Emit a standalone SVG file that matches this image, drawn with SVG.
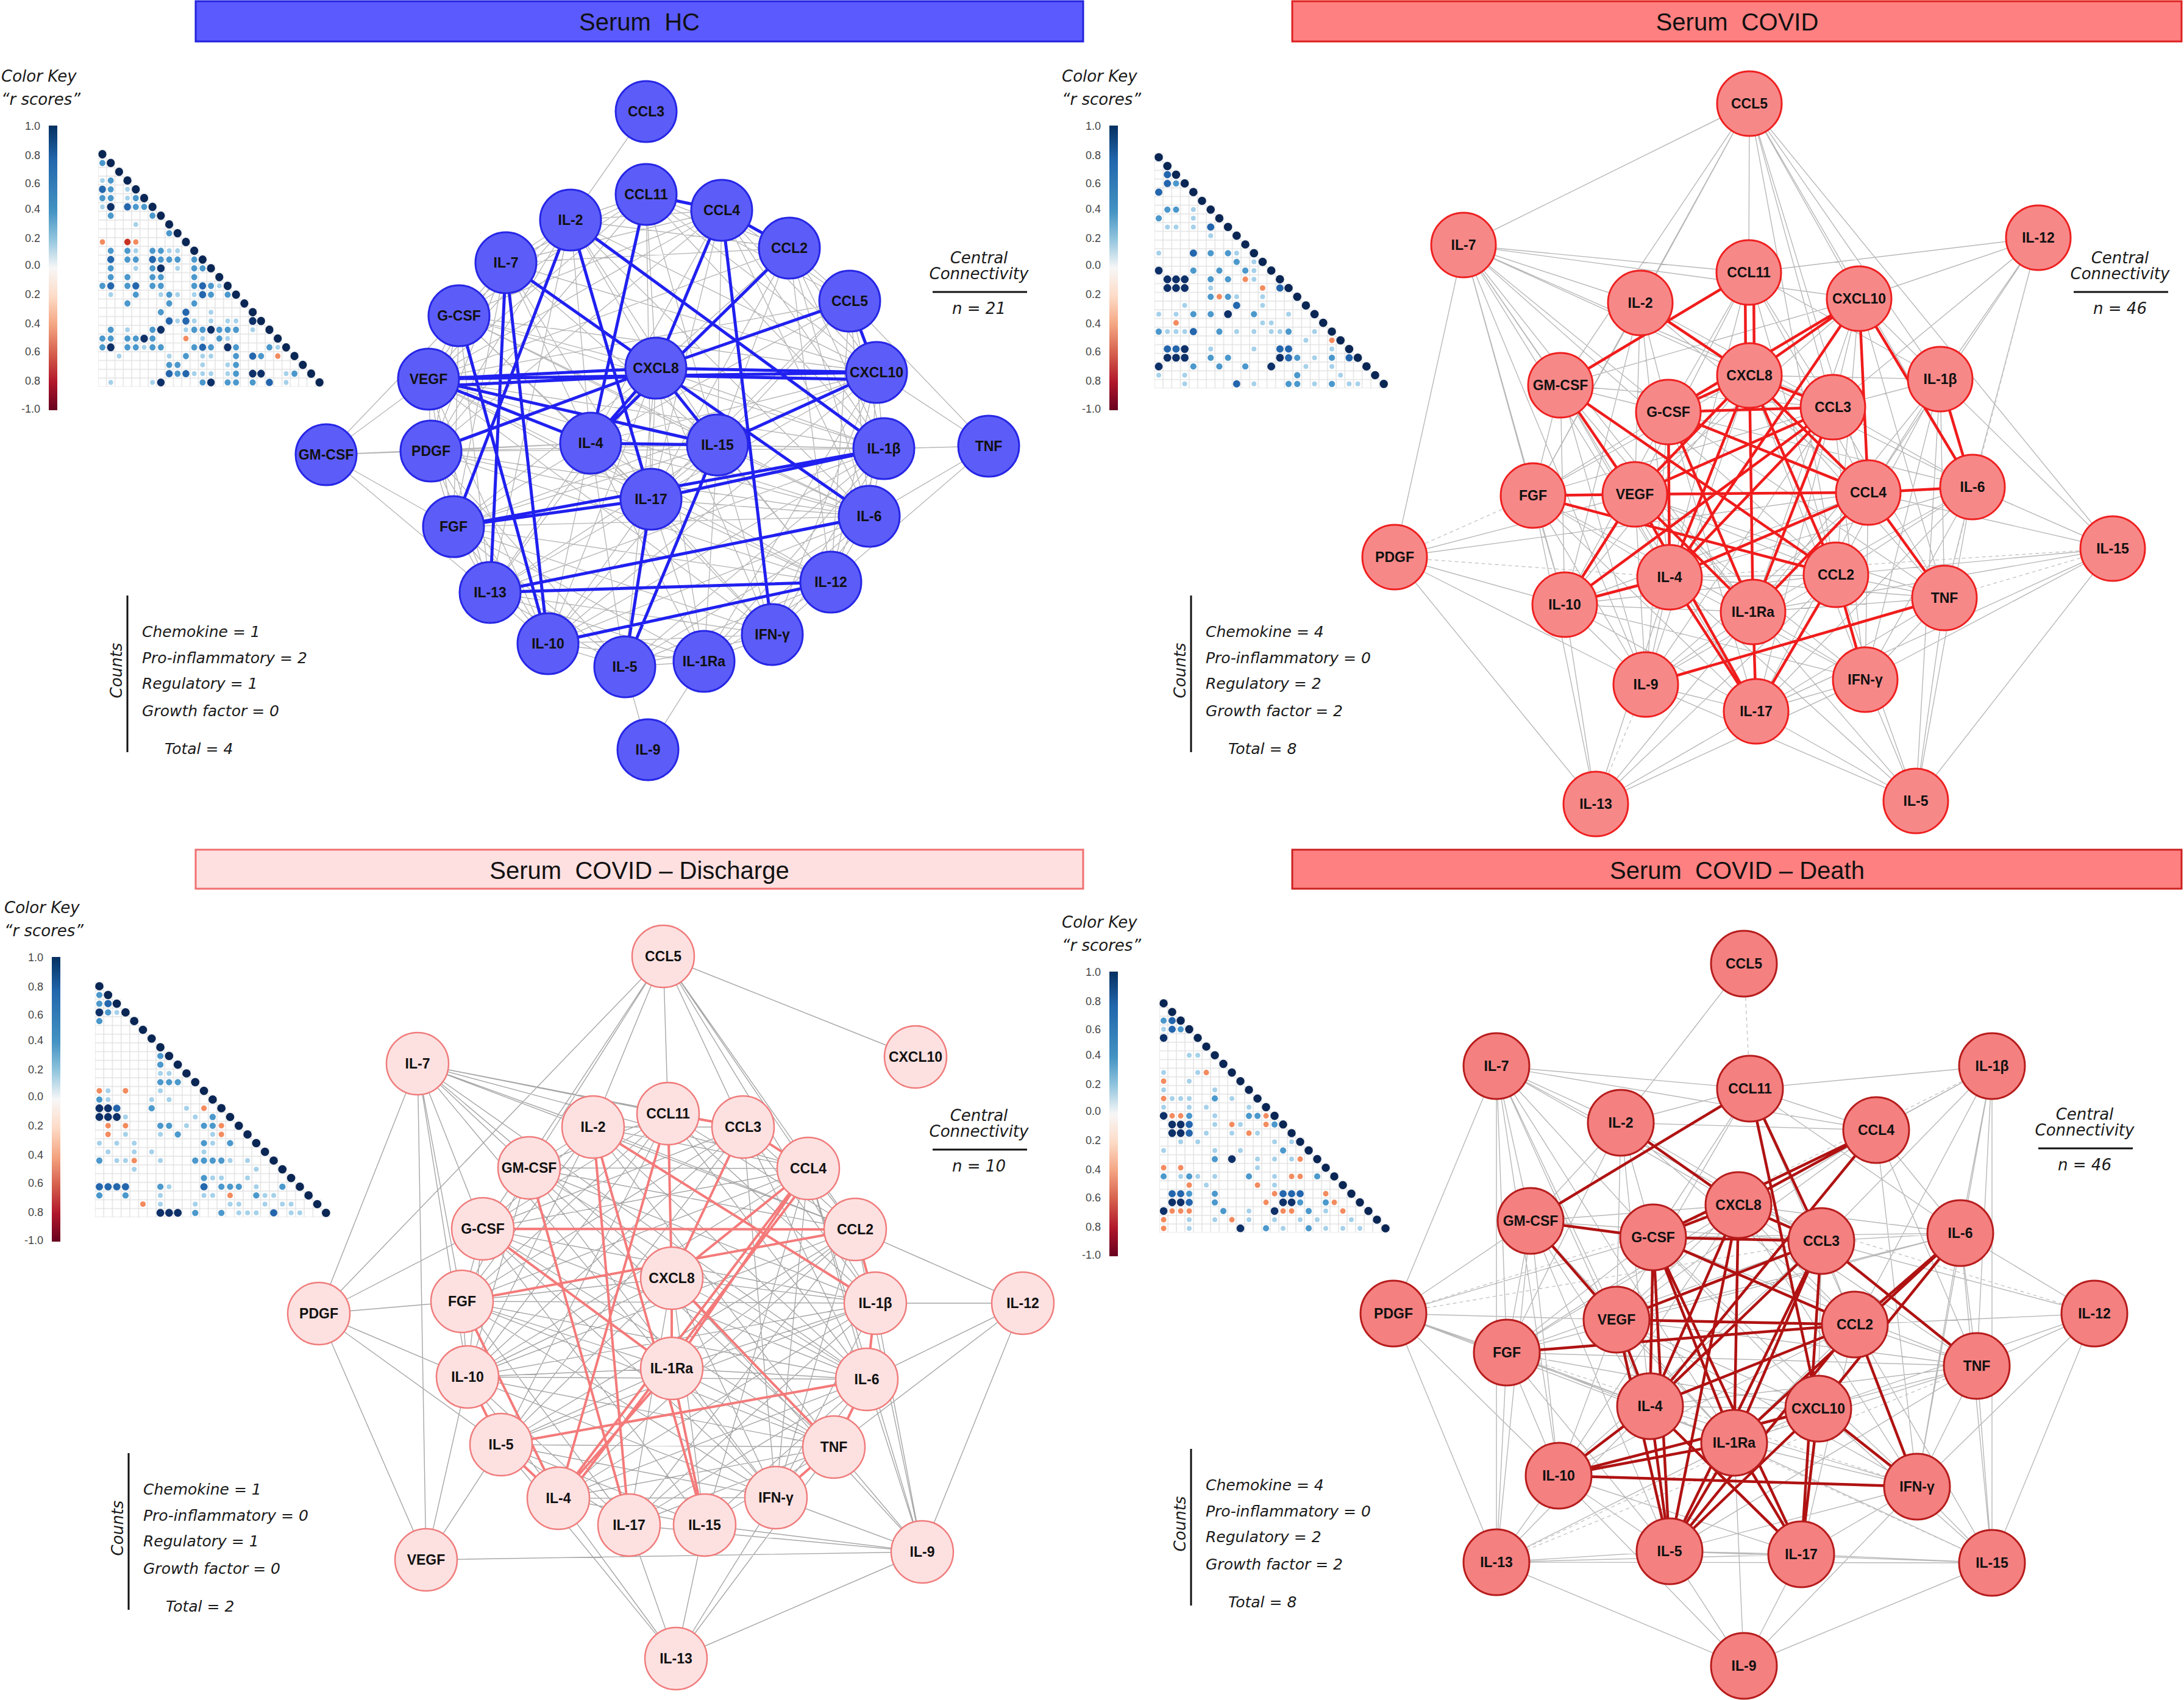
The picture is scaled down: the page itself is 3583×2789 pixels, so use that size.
<svg xmlns="http://www.w3.org/2000/svg" xmlns:xlink="http://www.w3.org/1999/xlink" width="3583" height="2789" viewBox="0 0 3583 2789">
<style>
text{font-family:"Liberation Sans",Arial,sans-serif}
.title{font-size:40px;text-anchor:middle;fill:#111}
.it{font-family:"DejaVu Sans",sans-serif;font-style:italic;fill:#1a1a1a}
.ck{font-size:26px}
.cnt{font-size:25px}
.cc{font-size:26px;text-anchor:middle}
.sc{font-size:18px;text-anchor:end;fill:#444}
.node text{font-weight:bold;font-size:23px;text-anchor:middle;dominant-baseline:central;fill:#111}
.hc circle{fill:#5c5cf8;stroke:#2626e6;stroke-width:3}
.cv circle{fill:#f78888;stroke:#ee2020;stroke-width:3}
.dc circle{fill:#fde1e1;stroke:#f07c7c;stroke-width:2.5}
.de circle{fill:#f48080;stroke:#b81c1c;stroke-width:3}
.g{fill:none;stroke:#b8b8b8;stroke-width:1.4}
.g2{fill:none;stroke:#a6a6a6;stroke-width:1.4}
.gd{fill:none;stroke:#c6c6c6;stroke-width:1.4;stroke-dasharray:6 5}
.eb{fill:none;stroke:#2020f0;stroke-width:5}
.er{fill:none;stroke:#f01c1c;stroke-width:4.5}
.ep{fill:none;stroke:#f47a7a;stroke-width:4}
.ed{fill:none;stroke:#b01212;stroke-width:4.5}
.rule{stroke:#111;stroke-width:3}
.D{fill:#0e3068}.d{fill:#2466ad}.m{fill:#4b98cc}.l{fill:#a6d1ea}.o{fill:#f38b5f}.r{fill:#c83220}
.dg circle{fill:#0a2654}
</style>
<defs>
<linearGradient id="rdbu" x1="0" y1="0" x2="0" y2="1">
<stop offset="0" stop-color="#053061"/><stop offset=".12" stop-color="#2166ac"/><stop offset=".3" stop-color="#4393c3"/><stop offset=".4" stop-color="#92c5de"/><stop offset=".5" stop-color="#f7f7f7"/><stop offset=".6" stop-color="#fddbc7"/><stop offset=".7" stop-color="#f4a582"/><stop offset=".8" stop-color="#d6604d"/><stop offset=".9" stop-color="#b2182b"/><stop offset="1" stop-color="#67001f"/>
</linearGradient>
<pattern id="grid" patternUnits="userSpaceOnUse" x="-.5" y="-.5" width="1" height="1"><rect width="1" height="1" fill="#fff" stroke="#e2e2e2" stroke-width=".1"/></pattern>
<g id="mx">
<polygon fill="url(#grid)" points="-.5,-.5 .5,-.5 .5,.5 1.5,.5 1.5,1.5 2.5,1.5 2.5,2.5 3.5,2.5 3.5,3.5 4.5,3.5 4.5,4.5 5.5,4.5 5.5,5.5 6.5,5.5 6.5,6.5 7.5,6.5 7.5,7.5 8.5,7.5 8.5,8.5 9.5,8.5 9.5,9.5 10.5,9.5 10.5,10.5 11.5,10.5 11.5,11.5 12.5,11.5 12.5,12.5 13.5,12.5 13.5,13.5 14.5,13.5 14.5,14.5 15.5,14.5 15.5,15.5 16.5,15.5 16.5,16.5 17.5,16.5 17.5,17.5 18.5,17.5 18.5,18.5 19.5,18.5 19.5,19.5 20.5,19.5 20.5,20.5 21.5,20.5 21.5,21.5 22.5,21.5 22.5,22.5 23.5,22.5 23.5,23.5 24.5,23.5 24.5,24.5 25.5,24.5 25.5,25.5 26.5,25.5 26.5,26.5 -.5,26.5"/>
<g class="dg"><circle cx="0" cy="0" r=".48"/><circle cx="1" cy="1" r=".48"/><circle cx="2" cy="2" r=".48"/><circle cx="3" cy="3" r=".48"/><circle cx="4" cy="4" r=".48"/><circle cx="5" cy="5" r=".48"/><circle cx="6" cy="6" r=".48"/><circle cx="7" cy="7" r=".48"/><circle cx="8" cy="8" r=".48"/><circle cx="9" cy="9" r=".48"/><circle cx="10" cy="10" r=".48"/><circle cx="11" cy="11" r=".48"/><circle cx="12" cy="12" r=".48"/><circle cx="13" cy="13" r=".48"/><circle cx="14" cy="14" r=".48"/><circle cx="15" cy="15" r=".48"/><circle cx="16" cy="16" r=".48"/><circle cx="17" cy="17" r=".48"/><circle cx="18" cy="18" r=".48"/><circle cx="19" cy="19" r=".48"/><circle cx="20" cy="20" r=".48"/><circle cx="21" cy="21" r=".48"/><circle cx="22" cy="22" r=".48"/><circle cx="23" cy="23" r=".48"/><circle cx="24" cy="24" r=".48"/><circle cx="25" cy="25" r=".48"/><circle cx="26" cy="26" r=".48"/></g>
</g>
<g id="key">
<text class="it ck" x="2" y="134">Color Key</text>
<text class="it ck" x="2" y="172">&#8220;r scores&#8221;</text>
<rect x="80" y="206" width="14" height="467" fill="url(#rdbu)"/>
<text class="sc" x="66" y="213">1.0</text><text class="sc" x="66" y="261">0.8</text><text class="sc" x="66" y="307">0.6</text><text class="sc" x="66" y="349">0.4</text><text class="sc" x="66" y="397">0.2</text><text class="sc" x="66" y="441">0.0</text><text class="sc" x="66" y="489">0.2</text><text class="sc" x="66" y="537">0.4</text><text class="sc" x="66" y="583">0.6</text><text class="sc" x="66" y="631">0.8</text><text class="sc" x="66" y="677">-1.0</text>
</g>
</defs>
<rect width="3583" height="2789" fill="#fff"/>

<!-- titles -->
<g id="title-hc"><rect x="321" y="2" width="1456" height="66" fill="#5a5aff" stroke="#2222dd" stroke-width="3"/><text class="title" x="1049" y="50" xml:space="preserve">Serum  HC</text></g>
<g id="title-covid"><rect x="2120" y="2" width="1459" height="66" fill="#ff8080" stroke="#dd2020" stroke-width="3"/><text class="title" x="2850" y="50" xml:space="preserve">Serum  COVID</text></g>
<g id="title-discharge"><rect x="321" y="1394" width="1456" height="64" fill="#ffe0e0" stroke="#f07070" stroke-width="3"/><text class="title" x="1049" y="1442" xml:space="preserve">Serum  COVID – Discharge</text></g>
<g id="title-death"><rect x="2120" y="1394" width="1459" height="64" fill="#ff8080" stroke="#cc2020" stroke-width="3"/><text class="title" x="2850" y="1442" xml:space="preserve">Serum  COVID – Death</text></g>

<!-- color keys -->
<use id="key-hc" href="#key"/>
<use id="key-covid" href="#key" transform="translate(1740,0)"/>
<use id="key-discharge" href="#key" transform="translate(5,1364)"/>
<use id="key-death" href="#key" transform="translate(1740,1388)"/>

<!-- correlation matrices -->
<g id="matrix-hc" transform="translate(168,253) scale(13.7,14.4)"><use href="#mx"/>
<circle class="D" cx="1" cy="6" r=".45"/><circle class="D" cx="7" cy="13" r=".45"/><circle class="D" cx="18" cy="19" r=".45"/><circle class="D" cx="7" cy="20" r=".45"/><circle class="D" cx="13" cy="20" r=".45"/><circle class="D" cx="5" cy="21" r=".45"/><circle class="D" cx="1" cy="22" r=".45"/><circle class="D" cx="15" cy="22" r=".45"/><circle class="D" cx="18" cy="25" r=".45"/><circle class="D" cx="19" cy="25" r=".45"/><circle class="D" cx="7" cy="26" r=".45"/><circle class="D" cx="13" cy="26" r=".45"/>
<circle class="d" cx="0" cy="4" r=".42"/><circle class="d" cx="3" cy="6" r=".42"/><circle class="d" cx="1" cy="12" r=".42"/><circle class="d" cx="6" cy="12" r=".42"/><circle class="d" cx="1" cy="15" r=".42"/><circle class="d" cx="4" cy="15" r=".42"/><circle class="d" cx="12" cy="15" r=".42"/><circle class="d" cx="12" cy="16" r=".42"/><circle class="d" cx="10" cy="18" r=".42"/><circle class="d" cx="8" cy="19" r=".42"/><circle class="d" cx="10" cy="19" r=".42"/><circle class="d" cx="12" cy="22" r=".42"/><circle class="d" cx="18" cy="23" r=".42"/><circle class="d" cx="8" cy="25" r=".42"/><circle class="d" cx="10" cy="25" r=".42"/><circle class="d" cx="20" cy="26" r=".42"/>
<circle class="m" cx="0" cy="1" r=".36"/><circle class="m" cx="1" cy="3" r=".36"/><circle class="m" cx="1" cy="4" r=".36"/><circle class="m" cx="0" cy="5" r=".36"/><circle class="m" cx="1" cy="5" r=".36"/><circle class="m" cx="4" cy="5" r=".36"/><circle class="m" cx="4" cy="6" r=".36"/><circle class="m" cx="5" cy="6" r=".36"/><circle class="m" cx="1" cy="7" r=".36"/><circle class="m" cx="6" cy="7" r=".36"/><circle class="m" cx="8" cy="9" r=".36"/><circle class="m" cx="1" cy="11" r=".36"/><circle class="m" cx="3" cy="11" r=".36"/><circle class="m" cx="6" cy="11" r=".36"/><circle class="m" cx="7" cy="11" r=".36"/><circle class="m" cx="3" cy="12" r=".36"/><circle class="m" cx="4" cy="12" r=".36"/><circle class="m" cx="7" cy="12" r=".36"/><circle class="m" cx="8" cy="12" r=".36"/><circle class="m" cx="9" cy="12" r=".36"/><circle class="m" cx="11" cy="12" r=".36"/><circle class="m" cx="1" cy="13" r=".36"/><circle class="m" cx="6" cy="13" r=".36"/><circle class="m" cx="11" cy="13" r=".36"/><circle class="m" cx="12" cy="13" r=".36"/><circle class="m" cx="1" cy="14" r=".36"/><circle class="m" cx="3" cy="14" r=".36"/><circle class="m" cx="6" cy="14" r=".36"/><circle class="m" cx="7" cy="14" r=".36"/><circle class="m" cx="11" cy="14" r=".36"/><circle class="m" cx="0" cy="15" r=".36"/><circle class="m" cx="3" cy="15" r=".36"/><circle class="m" cx="6" cy="15" r=".36"/><circle class="m" cx="7" cy="15" r=".36"/><circle class="m" cx="11" cy="15" r=".36"/><circle class="m" cx="13" cy="15" r=".36"/><circle class="m" cx="4" cy="16" r=".36"/><circle class="m" cx="8" cy="16" r=".36"/><circle class="m" cx="13" cy="16" r=".36"/><circle class="m" cx="15" cy="16" r=".36"/><circle class="m" cx="3" cy="17" r=".36"/><circle class="m" cx="8" cy="17" r=".36"/><circle class="m" cx="11" cy="17" r=".36"/><circle class="m" cx="7" cy="18" r=".36"/><circle class="m" cx="1" cy="20" r=".36"/><circle class="m" cx="6" cy="20" r=".36"/><circle class="m" cx="11" cy="20" r=".36"/><circle class="m" cx="12" cy="20" r=".36"/><circle class="m" cx="14" cy="20" r=".36"/><circle class="m" cx="15" cy="20" r=".36"/><circle class="m" cx="16" cy="20" r=".36"/><circle class="m" cx="0" cy="21" r=".36"/><circle class="m" cx="1" cy="21" r=".36"/><circle class="m" cx="3" cy="21" r=".36"/><circle class="m" cx="4" cy="21" r=".36"/><circle class="m" cx="6" cy="21" r=".36"/><circle class="m" cx="14" cy="21" r=".36"/><circle class="m" cx="0" cy="22" r=".36"/><circle class="m" cx="3" cy="22" r=".36"/><circle class="m" cx="4" cy="22" r=".36"/><circle class="m" cx="6" cy="22" r=".36"/><circle class="m" cx="7" cy="22" r=".36"/><circle class="m" cx="11" cy="22" r=".36"/><circle class="m" cx="13" cy="22" r=".36"/><circle class="m" cx="16" cy="22" r=".36"/><circle class="m" cx="20" cy="22" r=".36"/><circle class="m" cx="10" cy="23" r=".36"/><circle class="m" cx="16" cy="23" r=".36"/><circle class="m" cx="19" cy="23" r=".36"/><circle class="m" cx="8" cy="24" r=".36"/><circle class="m" cx="9" cy="24" r=".36"/><circle class="m" cx="16" cy="24" r=".36"/><circle class="m" cx="9" cy="25" r=".36"/><circle class="m" cx="16" cy="25" r=".36"/><circle class="m" cx="23" cy="25" r=".36"/><circle class="m" cx="12" cy="26" r=".36"/><circle class="m" cx="15" cy="26" r=".36"/><circle class="m" cx="16" cy="26" r=".36"/><circle class="m" cx="18" cy="26" r=".36"/>
<circle class="l" cx="0" cy="3" r=".28"/><circle class="l" cx="3" cy="4" r=".28"/><circle class="l" cx="3" cy="5" r=".28"/><circle class="l" cx="0" cy="6" r=".28"/><circle class="l" cx="4" cy="8" r=".28"/><circle class="l" cx="4" cy="11" r=".28"/><circle class="l" cx="8" cy="11" r=".28"/><circle class="l" cx="9" cy="11" r=".28"/><circle class="l" cx="4" cy="13" r=".28"/><circle class="l" cx="9" cy="13" r=".28"/><circle class="l" cx="14" cy="15" r=".28"/><circle class="l" cx="1" cy="16" r=".28"/><circle class="l" cx="7" cy="16" r=".28"/><circle class="l" cx="9" cy="16" r=".28"/><circle class="l" cx="11" cy="16" r=".28"/><circle class="l" cx="13" cy="18" r=".28"/><circle class="l" cx="9" cy="19" r=".28"/><circle class="l" cx="11" cy="19" r=".28"/><circle class="l" cx="13" cy="19" r=".28"/><circle class="l" cx="15" cy="19" r=".28"/><circle class="l" cx="16" cy="19" r=".28"/><circle class="l" cx="3" cy="20" r=".28"/><circle class="l" cx="10" cy="20" r=".28"/><circle class="l" cx="18" cy="20" r=".28"/><circle class="l" cx="12" cy="21" r=".28"/><circle class="l" cx="15" cy="21" r=".28"/><circle class="l" cx="5" cy="22" r=".28"/><circle class="l" cx="21" cy="22" r=".28"/><circle class="l" cx="2" cy="23" r=".28"/><circle class="l" cx="8" cy="23" r=".28"/><circle class="l" cx="12" cy="23" r=".28"/><circle class="l" cx="13" cy="23" r=".28"/><circle class="l" cx="12" cy="24" r=".28"/><circle class="l" cx="15" cy="24" r=".28"/><circle class="l" cx="11" cy="25" r=".28"/><circle class="l" cx="12" cy="25" r=".28"/><circle class="l" cx="13" cy="25" r=".28"/><circle class="l" cx="15" cy="25" r=".28"/><circle class="l" cx="22" cy="25" r=".28"/><circle class="l" cx="1" cy="26" r=".28"/><circle class="l" cx="6" cy="26" r=".28"/><circle class="l" cx="22" cy="26" r=".28"/>
<circle class="o" cx="0" cy="10" r=".32"/><circle class="o" cx="4" cy="10" r=".32"/><circle class="o" cx="10" cy="21" r=".32"/><circle class="o" cx="21" cy="23" r=".32"/><circle class="r" cx="3" cy="10" r=".38"/>
</g>
<g id="matrix-covid" transform="translate(1901,258) scale(14.2,14.3)"><use href="#mx"/>
<circle class="D" cx="0" cy="13" r=".45"/><circle class="D" cx="1" cy="14" r=".45"/><circle class="D" cx="2" cy="14" r=".45"/><circle class="D" cx="3" cy="14" r=".45"/><circle class="D" cx="1" cy="15" r=".45"/><circle class="D" cx="2" cy="15" r=".45"/><circle class="D" cx="3" cy="15" r=".45"/><circle class="D" cx="8" cy="18" r=".45"/><circle class="D" cx="3" cy="22" r=".45"/><circle class="D" cx="1" cy="23" r=".45"/><circle class="D" cx="2" cy="23" r=".45"/><circle class="D" cx="3" cy="23" r=".45"/><circle class="D" cx="14" cy="23" r=".45"/><circle class="D" cx="0" cy="24" r=".45"/><circle class="D" cx="13" cy="24" r=".45"/>
<circle class="d" cx="1" cy="2" r=".42"/><circle class="d" cx="1" cy="3" r=".42"/><circle class="d" cx="0" cy="4" r=".42"/><circle class="d" cx="6" cy="8" r=".42"/><circle class="d" cx="4" cy="11" r=".42"/><circle class="d" cx="14" cy="15" r=".42"/><circle class="d" cx="9" cy="17" r=".42"/><circle class="d" cx="4" cy="20" r=".42"/><circle class="d" cx="1" cy="22" r=".42"/><circle class="d" cx="2" cy="22" r=".42"/><circle class="d" cx="14" cy="22" r=".42"/><circle class="d" cx="15" cy="22" r=".42"/><circle class="d" cx="15" cy="23" r=".42"/><circle class="d" cx="22" cy="23" r=".42"/><circle class="d" cx="9" cy="26" r=".42"/>
<circle class="m" cx="2" cy="3" r=".36"/><circle class="m" cx="1" cy="6" r=".36"/><circle class="m" cx="2" cy="6" r=".36"/><circle class="m" cx="0" cy="7" r=".36"/><circle class="m" cx="6" cy="11" r=".36"/><circle class="m" cx="8" cy="11" r=".36"/><circle class="m" cx="9" cy="12" r=".36"/><circle class="m" cx="4" cy="13" r=".36"/><circle class="m" cx="7" cy="13" r=".36"/><circle class="m" cx="10" cy="13" r=".36"/><circle class="m" cx="6" cy="14" r=".36"/><circle class="m" cx="8" cy="14" r=".36"/><circle class="m" cx="6" cy="16" r=".36"/><circle class="m" cx="8" cy="16" r=".36"/><circle class="m" cx="4" cy="18" r=".36"/><circle class="m" cx="6" cy="18" r=".36"/><circle class="m" cx="11" cy="18" r=".36"/><circle class="m" cx="0" cy="20" r=".36"/><circle class="m" cx="7" cy="20" r=".36"/><circle class="m" cx="15" cy="20" r=".36"/><circle class="m" cx="6" cy="23" r=".36"/><circle class="m" cx="8" cy="23" r=".36"/><circle class="m" cx="16" cy="23" r=".36"/><circle class="m" cx="20" cy="23" r=".36"/><circle class="m" cx="4" cy="24" r=".36"/><circle class="m" cx="7" cy="24" r=".36"/><circle class="m" cx="10" cy="24" r=".36"/><circle class="m" cx="16" cy="25" r=".36"/><circle class="m" cx="15" cy="26" r=".36"/><circle class="m" cx="16" cy="26" r=".36"/><circle class="m" cx="20" cy="26" r=".36"/>
<circle class="l" cx="4" cy="6" r=".28"/><circle class="l" cx="4" cy="7" r=".28"/><circle class="l" cx="1" cy="8" r=".28"/><circle class="l" cx="2" cy="8" r=".28"/><circle class="l" cx="4" cy="8" r=".28"/><circle class="l" cx="6" cy="9" r=".28"/><circle class="l" cx="0" cy="11" r=".28"/><circle class="l" cx="9" cy="11" r=".28"/><circle class="l" cx="11" cy="12" r=".28"/><circle class="l" cx="11" cy="13" r=".28"/><circle class="l" cx="11" cy="14" r=".28"/><circle class="l" cx="6" cy="15" r=".28"/><circle class="l" cx="9" cy="16" r=".28"/><circle class="l" cx="12" cy="16" r=".28"/><circle class="l" cx="3" cy="17" r=".28"/><circle class="l" cx="12" cy="17" r=".28"/><circle class="l" cx="0" cy="18" r=".28"/><circle class="l" cx="2" cy="18" r=".28"/><circle class="l" cx="15" cy="18" r=".28"/><circle class="l" cx="12" cy="19" r=".28"/><circle class="l" cx="13" cy="19" r=".28"/><circle class="l" cx="1" cy="20" r=".28"/><circle class="l" cx="2" cy="20" r=".28"/><circle class="l" cx="3" cy="20" r=".28"/><circle class="l" cx="9" cy="20" r=".28"/><circle class="l" cx="11" cy="20" r=".28"/><circle class="l" cx="13" cy="20" r=".28"/><circle class="l" cx="14" cy="20" r=".28"/><circle class="l" cx="18" cy="20" r=".28"/><circle class="l" cx="17" cy="21" r=".28"/><circle class="l" cx="6" cy="22" r=".28"/><circle class="l" cx="11" cy="22" r=".28"/><circle class="l" cx="20" cy="22" r=".28"/><circle class="l" cx="18" cy="23" r=".28"/><circle class="l" cx="17" cy="24" r=".28"/><circle class="l" cx="20" cy="24" r=".28"/><circle class="l" cx="0" cy="25" r=".28"/><circle class="l" cx="3" cy="25" r=".28"/><circle class="l" cx="21" cy="25" r=".28"/><circle class="l" cx="3" cy="26" r=".28"/><circle class="l" cx="11" cy="26" r=".28"/><circle class="l" cx="18" cy="26" r=".28"/><circle class="l" cx="22" cy="26" r=".28"/><circle class="l" cx="23" cy="26" r=".28"/>
<circle class="o" cx="10" cy="14" r=".32"/><circle class="o" cx="12" cy="15" r=".32"/><circle class="o" cx="7" cy="16" r=".32"/><circle class="o" cx="2" cy="19" r=".32"/><circle class="o" cx="20" cy="21" r=".32"/>
</g>
<g id="matrix-discharge" transform="translate(163,1618) scale(14.3,14.3)"><use href="#mx"/>
<circle class="D" cx="0" cy="3" r=".45"/><circle class="D" cx="0" cy="14" r=".45"/><circle class="D" cx="1" cy="14" r=".45"/><circle class="D" cx="0" cy="15" r=".45"/><circle class="D" cx="1" cy="15" r=".45"/><circle class="D" cx="2" cy="15" r=".45"/><circle class="D" cx="7" cy="26" r=".45"/><circle class="D" cx="8" cy="26" r=".45"/><circle class="D" cx="9" cy="26" r=".45"/>
<circle class="d" cx="1" cy="2" r=".42"/><circle class="d" cx="2" cy="14" r=".42"/><circle class="d" cx="0" cy="23" r=".42"/><circle class="d" cx="1" cy="23" r=".42"/><circle class="d" cx="2" cy="23" r=".42"/><circle class="d" cx="3" cy="23" r=".42"/><circle class="d" cx="12" cy="23" r=".42"/><circle class="d" cx="20" cy="26" r=".42"/>
<circle class="m" cx="0" cy="1" r=".36"/><circle class="m" cx="0" cy="2" r=".36"/><circle class="m" cx="1" cy="3" r=".36"/><circle class="m" cx="0" cy="4" r=".36"/><circle class="m" cx="7" cy="8" r=".36"/><circle class="m" cx="7" cy="9" r=".36"/><circle class="m" cx="7" cy="11" r=".36"/><circle class="m" cx="8" cy="11" r=".36"/><circle class="m" cx="9" cy="11" r=".36"/><circle class="m" cx="0" cy="13" r=".36"/><circle class="m" cx="6" cy="14" r=".36"/><circle class="m" cx="13" cy="15" r=".36"/><circle class="m" cx="7" cy="16" r=".36"/><circle class="m" cx="8" cy="16" r=".36"/><circle class="m" cx="12" cy="16" r=".36"/><circle class="m" cx="13" cy="16" r=".36"/><circle class="m" cx="9" cy="17" r=".36"/><circle class="m" cx="12" cy="18" r=".36"/><circle class="m" cx="15" cy="18" r=".36"/><circle class="m" cx="0" cy="20" r=".36"/><circle class="m" cx="11" cy="20" r=".36"/><circle class="m" cx="12" cy="20" r=".36"/><circle class="m" cx="13" cy="20" r=".36"/><circle class="m" cx="14" cy="20" r=".36"/><circle class="m" cx="12" cy="22" r=".36"/><circle class="m" cx="7" cy="23" r=".36"/><circle class="m" cx="14" cy="23" r=".36"/><circle class="m" cx="15" cy="23" r=".36"/><circle class="m" cx="16" cy="23" r=".36"/><circle class="m" cx="21" cy="23" r=".36"/><circle class="m" cx="0" cy="24" r=".36"/><circle class="m" cx="3" cy="24" r=".36"/><circle class="m" cx="18" cy="24" r=".36"/><circle class="m" cx="11" cy="26" r=".36"/><circle class="m" cx="14" cy="26" r=".36"/>
<circle class="l" cx="2" cy="3" r=".28"/><circle class="l" cx="7" cy="10" r=".28"/><circle class="l" cx="8" cy="10" r=".28"/><circle class="l" cx="1" cy="12" r=".28"/><circle class="l" cx="7" cy="12" r=".28"/><circle class="l" cx="1" cy="13" r=".28"/><circle class="l" cx="6" cy="13" r=".28"/><circle class="l" cx="8" cy="13" r=".28"/><circle class="l" cx="10" cy="14" r=".28"/><circle class="l" cx="3" cy="15" r=".28"/><circle class="l" cx="11" cy="15" r=".28"/><circle class="l" cx="10" cy="16" r=".28"/><circle class="l" cx="3" cy="17" r=".28"/><circle class="l" cx="7" cy="17" r=".28"/><circle class="l" cx="13" cy="17" r=".28"/><circle class="l" cx="0" cy="18" r=".28"/><circle class="l" cx="2" cy="18" r=".28"/><circle class="l" cx="4" cy="18" r=".28"/><circle class="l" cx="13" cy="18" r=".28"/><circle class="l" cx="1" cy="19" r=".28"/><circle class="l" cx="4" cy="19" r=".28"/><circle class="l" cx="6" cy="19" r=".28"/><circle class="l" cx="12" cy="19" r=".28"/><circle class="l" cx="2" cy="20" r=".28"/><circle class="l" cx="3" cy="20" r=".28"/><circle class="l" cx="7" cy="20" r=".28"/><circle class="l" cx="15" cy="20" r=".28"/><circle class="l" cx="17" cy="20" r=".28"/><circle class="l" cx="4" cy="21" r=".28"/><circle class="l" cx="18" cy="21" r=".28"/><circle class="l" cx="13" cy="22" r=".28"/><circle class="l" cx="14" cy="22" r=".28"/><circle class="l" cx="17" cy="22" r=".28"/><circle class="l" cx="8" cy="23" r=".28"/><circle class="l" cx="18" cy="23" r=".28"/><circle class="l" cx="7" cy="24" r=".28"/><circle class="l" cx="12" cy="24" r=".28"/><circle class="l" cx="13" cy="24" r=".28"/><circle class="l" cx="19" cy="24" r=".28"/><circle class="l" cx="20" cy="24" r=".28"/><circle class="l" cx="7" cy="25" r=".28"/><circle class="l" cx="11" cy="25" r=".28"/><circle class="l" cx="15" cy="25" r=".28"/><circle class="l" cx="16" cy="25" r=".28"/><circle class="l" cx="19" cy="25" r=".28"/><circle class="l" cx="21" cy="25" r=".28"/><circle class="l" cx="22" cy="25" r=".28"/><circle class="l" cx="16" cy="26" r=".28"/><circle class="l" cx="17" cy="26" r=".28"/><circle class="l" cx="18" cy="26" r=".28"/><circle class="l" cx="22" cy="26" r=".28"/><circle class="l" cx="23" cy="26" r=".28"/>
<circle class="o" cx="0" cy="12" r=".32"/><circle class="o" cx="3" cy="12" r=".32"/><circle class="o" cx="12" cy="14" r=".32"/><circle class="o" cx="1" cy="16" r=".32"/><circle class="o" cx="3" cy="16" r=".32"/><circle class="o" cx="14" cy="16" r=".32"/><circle class="o" cx="1" cy="17" r=".32"/><circle class="o" cx="14" cy="17" r=".32"/><circle class="o" cx="4" cy="20" r=".32"/><circle class="o" cx="15" cy="24" r=".32"/><circle class="o" cx="5" cy="25" r=".32"/>
</g>
<g id="matrix-death" transform="translate(1909,1646) scale(14.0,14.2)"><use href="#mx"/>
<circle class="D" cx="0" cy="4" r=".45"/><circle class="D" cx="0" cy="13" r=".45"/><circle class="D" cx="1" cy="14" r=".45"/><circle class="D" cx="2" cy="14" r=".45"/><circle class="D" cx="1" cy="15" r=".45"/><circle class="D" cx="2" cy="15" r=".45"/><circle class="D" cx="8" cy="18" r=".45"/><circle class="D" cx="1" cy="23" r=".45"/><circle class="D" cx="2" cy="23" r=".45"/><circle class="D" cx="14" cy="23" r=".45"/><circle class="D" cx="15" cy="23" r=".45"/><circle class="D" cx="0" cy="24" r=".45"/><circle class="D" cx="13" cy="24" r=".45"/><circle class="D" cx="9" cy="26" r=".45"/>
<circle class="d" cx="1" cy="2" r=".42"/><circle class="d" cx="1" cy="3" r=".42"/><circle class="d" cx="3" cy="14" r=".42"/><circle class="d" cx="3" cy="15" r=".42"/><circle class="d" cx="1" cy="22" r=".42"/><circle class="d" cx="2" cy="22" r=".42"/><circle class="d" cx="14" cy="22" r=".42"/><circle class="d" cx="15" cy="22" r=".42"/><circle class="d" cx="16" cy="22" r=".42"/><circle class="d" cx="3" cy="23" r=".42"/>
<circle class="m" cx="0" cy="2" r=".36"/><circle class="m" cx="2" cy="3" r=".36"/><circle class="m" cx="6" cy="11" r=".36"/><circle class="m" cx="3" cy="13" r=".36"/><circle class="m" cx="10" cy="13" r=".36"/><circle class="m" cx="11" cy="13" r=".36"/><circle class="m" cx="13" cy="14" r=".36"/><circle class="m" cx="14" cy="17" r=".36"/><circle class="m" cx="6" cy="18" r=".36"/><circle class="m" cx="0" cy="20" r=".36"/><circle class="m" cx="3" cy="20" r=".36"/><circle class="m" cx="10" cy="20" r=".36"/><circle class="m" cx="18" cy="20" r=".36"/><circle class="m" cx="3" cy="22" r=".36"/><circle class="m" cx="6" cy="22" r=".36"/><circle class="m" cx="6" cy="23" r=".36"/><circle class="m" cx="16" cy="23" r=".36"/><circle class="m" cx="19" cy="23" r=".36"/><circle class="m" cx="7" cy="24" r=".36"/><circle class="m" cx="17" cy="24" r=".36"/><circle class="m" cx="12" cy="26" r=".36"/><circle class="m" cx="17" cy="26" r=".36"/>
<circle class="l" cx="0" cy="3" r=".28"/><circle class="l" cx="3" cy="6" r=".28"/><circle class="l" cx="4" cy="6" r=".28"/><circle class="l" cx="0" cy="8" r=".28"/><circle class="l" cx="4" cy="8" r=".28"/><circle class="l" cx="3" cy="9" r=".28"/><circle class="l" cx="0" cy="10" r=".28"/><circle class="l" cx="6" cy="10" r=".28"/><circle class="l" cx="1" cy="11" r=".28"/><circle class="l" cx="2" cy="11" r=".28"/><circle class="l" cx="3" cy="11" r=".28"/><circle class="l" cx="8" cy="11" r=".28"/><circle class="l" cx="0" cy="12" r=".28"/><circle class="l" cx="3" cy="12" r=".28"/><circle class="l" cx="5" cy="12" r=".28"/><circle class="l" cx="10" cy="12" r=".28"/><circle class="l" cx="6" cy="13" r=".28"/><circle class="l" cx="6" cy="14" r=".28"/><circle class="l" cx="9" cy="14" r=".28"/><circle class="l" cx="5" cy="15" r=".28"/><circle class="l" cx="8" cy="15" r=".28"/><circle class="l" cx="11" cy="15" r=".28"/><circle class="l" cx="2" cy="16" r=".28"/><circle class="l" cx="4" cy="16" r=".28"/><circle class="l" cx="13" cy="16" r=".28"/><circle class="l" cx="15" cy="16" r=".28"/><circle class="l" cx="0" cy="17" r=".28"/><circle class="l" cx="6" cy="17" r=".28"/><circle class="l" cx="9" cy="17" r=".28"/><circle class="l" cx="11" cy="18" r=".28"/><circle class="l" cx="13" cy="18" r=".28"/><circle class="l" cx="15" cy="18" r=".28"/><circle class="l" cx="11" cy="19" r=".28"/><circle class="l" cx="2" cy="20" r=".28"/><circle class="l" cx="4" cy="20" r=".28"/><circle class="l" cx="6" cy="20" r=".28"/><circle class="l" cx="13" cy="20" r=".28"/><circle class="l" cx="5" cy="21" r=".28"/><circle class="l" cx="13" cy="21" r=".28"/><circle class="l" cx="10" cy="24" r=".28"/><circle class="l" cx="19" cy="24" r=".28"/><circle class="l" cx="3" cy="25" r=".28"/><circle class="l" cx="6" cy="25" r=".28"/><circle class="l" cx="10" cy="25" r=".28"/><circle class="l" cx="13" cy="25" r=".28"/><circle class="l" cx="16" cy="25" r=".28"/><circle class="l" cx="18" cy="25" r=".28"/><circle class="l" cx="22" cy="25" r=".28"/><circle class="l" cx="3" cy="26" r=".28"/><circle class="l" cx="14" cy="26" r=".28"/><circle class="l" cx="19" cy="26" r=".28"/><circle class="l" cx="21" cy="26" r=".28"/><circle class="l" cx="23" cy="26" r=".28"/>
<circle class="o" cx="5" cy="8" r=".32"/><circle class="o" cx="0" cy="9" r=".32"/><circle class="o" cx="0" cy="11" r=".32"/><circle class="o" cx="1" cy="13" r=".32"/><circle class="o" cx="2" cy="13" r=".32"/><circle class="o" cx="12" cy="13" r=".32"/><circle class="o" cx="8" cy="14" r=".32"/><circle class="o" cx="12" cy="14" r=".32"/><circle class="o" cx="10" cy="15" r=".32"/><circle class="o" cx="16" cy="18" r=".32"/><circle class="o" cx="0" cy="19" r=".32"/><circle class="o" cx="2" cy="19" r=".32"/><circle class="o" cx="15" cy="20" r=".32"/><circle class="o" cx="16" cy="20" r=".32"/><circle class="o" cx="3" cy="21" r=".32"/><circle class="o" cx="11" cy="21" r=".32"/><circle class="o" cx="13" cy="22" r=".32"/><circle class="o" cx="19" cy="22" r=".32"/><circle class="o" cx="12" cy="23" r=".32"/><circle class="o" cx="20" cy="23" r=".32"/><circle class="o" cx="1" cy="24" r=".32"/><circle class="o" cx="2" cy="24" r=".32"/><circle class="o" cx="3" cy="24" r=".32"/><circle class="o" cx="14" cy="24" r=".32"/><circle class="o" cx="15" cy="24" r=".32"/><circle class="o" cx="21" cy="24" r=".32"/><circle class="o" cx="0" cy="25" r=".32"/><circle class="o" cx="8" cy="25" r=".32"/><circle class="o" cx="0" cy="26" r=".32"/>
</g>

<!-- counts -->
<g id="counts-hc"><path class="rule" d="M209 977V1234"/><text class="it ck" transform="translate(200,1100) rotate(-90)" text-anchor="middle">Counts</text><text class="it cnt" x="233" y="1045">Chemokine = 1</text><text class="it cnt" x="233" y="1088">Pro-inflammatory = 2</text><text class="it cnt" x="233" y="1130">Regulatory = 1</text><text class="it cnt" x="233" y="1175">Growth factor = 0</text><text class="it cnt" x="270" y="1237">Total = 4</text></g>
<g id="counts-covid" transform="translate(1745,0)"><path class="rule" d="M209 977V1234"/><text class="it ck" transform="translate(200,1100) rotate(-90)" text-anchor="middle">Counts</text><text class="it cnt" x="233" y="1045">Chemokine = 4</text><text class="it cnt" x="233" y="1088">Pro-inflammatory = 0</text><text class="it cnt" x="233" y="1130">Regulatory = 2</text><text class="it cnt" x="233" y="1175">Growth factor = 2</text><text class="it cnt" x="270" y="1237">Total = 8</text></g>
<g id="counts-discharge" transform="translate(2,1407)"><path class="rule" d="M209 977V1234"/><text class="it ck" transform="translate(200,1100) rotate(-90)" text-anchor="middle">Counts</text><text class="it cnt" x="233" y="1045">Chemokine = 1</text><text class="it cnt" x="233" y="1088">Pro-inflammatory = 0</text><text class="it cnt" x="233" y="1130">Regulatory = 1</text><text class="it cnt" x="233" y="1175">Growth factor = 0</text><text class="it cnt" x="270" y="1237">Total = 2</text></g>
<g id="counts-death" transform="translate(1745,1400)"><path class="rule" d="M209 977V1234"/><text class="it ck" transform="translate(200,1100) rotate(-90)" text-anchor="middle">Counts</text><text class="it cnt" x="233" y="1045">Chemokine = 4</text><text class="it cnt" x="233" y="1088">Pro-inflammatory = 0</text><text class="it cnt" x="233" y="1130">Regulatory = 2</text><text class="it cnt" x="233" y="1175">Growth factor = 2</text><text class="it cnt" x="270" y="1237">Total = 8</text></g>

<!-- central connectivity -->
<g id="central-hc"><text class="it cc" x="1606" y="432">Central</text><text class="it cc" x="1606" y="458">Connectivity</text><path class="rule" d="M1530 479H1685"/><text class="it cc" x="1606" y="515">n = 21</text></g>
<g id="central-covid" transform="translate(1872,0)"><text class="it cc" x="1606" y="432">Central</text><text class="it cc" x="1606" y="458">Connectivity</text><path class="rule" d="M1530 479H1685"/><text class="it cc" x="1606" y="515">n = 46</text></g>
<g id="central-discharge" transform="translate(0,1407)"><text class="it cc" x="1606" y="432">Central</text><text class="it cc" x="1606" y="458">Connectivity</text><path class="rule" d="M1530 479H1685"/><text class="it cc" x="1606" y="515">n = 10</text></g>
<g id="central-death" transform="translate(1814,1405)"><text class="it cc" x="1606" y="432">Central</text><text class="it cc" x="1606" y="458">Connectivity</text><path class="rule" d="M1530 479H1685"/><text class="it cc" x="1606" y="515">n = 46</text></g>

<!-- connectors -->
<g id="connectors">
<path id="edges-hc-gray" class="g" d="M1060 183L936 361M1060 319L936 361M1060 319L1295 407M1060 319L1076 604M1060 319L830 431M1060 319L753 518M1060 319L1394 494M1060 319L1177 730M1060 319L1068 819M1184 345L936 361M1184 345L1394 494M1184 345L1438 611M1184 345L1177 730M1184 345L969 727M1184 345L703 622M1184 345L1450 736M1184 345L753 518M1295 407L1394 494M1295 407L1438 611M1295 407L1450 736M1295 407L936 361M1295 407L830 431M1295 407L1068 819M1295 407L1177 730M936 361L830 431M936 361L753 518M936 361L1076 604M936 361L703 622M936 361L1438 611M936 361L1177 730M830 431L753 518M830 431L703 622M830 431L969 727M830 431L1177 730M830 431L1184 345M830 431L707 740M830 431L1068 819M753 518L703 622M753 518L707 740M753 518L969 727M753 518L1076 604M753 518L1068 819M753 518L1177 730M753 518L744 864M753 518L535 746M1394 494L1450 736M1394 494L1177 730M1394 494L1426 847M1394 494L1068 819M1394 494L1622 732M1076 604L1068 819M1076 604L1450 736M1076 604L1363 955M1076 604L899 1056M1076 604L1267 1041M1076 604L1025 1094M1076 604L744 864M1438 611L1450 736M1438 611L1426 847M1438 611L1363 955M1438 611L969 727M1438 611L1068 819M1438 611L1622 732M1438 611L1155 1085M703 622L707 740M703 622L744 864M703 622L804 972M703 622L1068 819M703 622L1450 736M703 622L535 746M703 622L1363 955M535 746L707 740M535 746L744 864M535 746L804 972M535 746L969 727M707 740L744 864M707 740L969 727M707 740L1177 730M707 740L1450 736M707 740L1068 819M707 740L804 972M707 740L899 1056M969 727L1068 819M969 727L744 864M969 727L804 972M969 727L899 1056M969 727L1025 1094M969 727L1155 1085M969 727L1363 955M969 727L1426 847M969 727L1267 1041M1177 730L1068 819M1177 730L1450 736M1177 730L1426 847M1177 730L1363 955M1177 730L1267 1041M1177 730L1155 1085M1177 730L899 1056M1177 730L804 972M1450 736L1426 847M1450 736L1363 955M1450 736L1267 1041M1450 736L1622 732M1450 736L1155 1085M1450 736L899 1056M1622 732L1426 847M1622 732L1363 955M1068 819L744 864M1068 819L804 972M1068 819L899 1056M1068 819L1155 1085M1068 819L1267 1041M1068 819L1363 955M1068 819L1426 847M744 864L804 972M744 864L899 1056M744 864L1025 1094M744 864L1363 955M744 864L1155 1085M744 864L1267 1041M1426 847L1363 955M1426 847L1267 1041M1426 847L1155 1085M1426 847L1025 1094M1426 847L899 1056M804 972L899 1056M804 972L1025 1094M804 972L1155 1085M804 972L1267 1041M1363 955L1267 1041M1363 955L1155 1085M1363 955L1025 1094M899 1056L1025 1094M899 1056L1155 1085M899 1056L1267 1041M1267 1041L1155 1085M1267 1041L1025 1094M1025 1094L1155 1085M1025 1094L1063 1230M1155 1085L1063 1230M1060 319L703 622M1060 319L707 740M1060 319L1450 736M1060 319L1438 611M1184 345L1068 819M1184 345L1426 847M1184 345L707 740M1295 407L1076 604M1295 407L703 622M1295 407L1426 847M1295 407L1363 955M936 361L969 727M936 361L707 740M936 361L1426 847M936 361L804 972M830 431L1426 847M830 431L1438 611M830 431L744 864M753 518L1450 736M753 518L1426 847M753 518L804 972M753 518L1438 611M1394 494L969 727M1394 494L1363 955M1394 494L703 622M1076 604L804 972M1076 604L1155 1085M1438 611L899 1056M1438 611L1267 1041M1438 611L744 864M703 622L1426 847M703 622L899 1056M703 622L1267 1041M707 740L1426 847M707 740L1363 955M707 740L1025 1094M969 727L1450 736M1177 730L744 864M1450 736L804 972M1450 736L1025 1094M1426 847L744 864"/>
<path id="edges-hc-strong" class="eb" d="M703 622L1076 604M703 634L1076 616M703 622L1438 611M1076 604L1438 611M1076 616L1438 623M703 622L969 727M703 622L1177 730M936 361L1450 736M936 361L744 864M936 361L1068 819M830 431L1076 604M830 431L804 972M830 431L899 1056M753 518L899 1056M1060 319L969 727M1184 345L1076 604M1184 345L1267 1041M1184 345L1295 407M1060 319L1184 345M1295 407L969 727M1394 494L1076 604M1394 494L1438 611M1438 611L1177 730M1076 604L1177 730M1076 604L1426 847M969 727L1177 730M707 740L1076 604M969 727L1076 604M744 864L1068 819M744 864L1450 736M1068 819L1450 736M804 972L1426 847M804 972L1363 955M899 1056L1363 955M1025 1094L1177 730M1025 1094L1068 819"/>

<path id="edges-covid-gray" class="g" d="M2870 170L2401 402M2870 170L2560 632M2870 170L2515 813M2870 170L2691 497M2870 170L2869 447M2870 170L3050 490M2870 170L3007 668M2870 170L3183 622M2870 170L3065 808M2870 170L3236 799M2870 170L3012 943M2870 170L3466 900M2401 402L2869 447M2401 402L3050 490M2401 402L2560 632M2401 402L2737 676M2401 402L2515 813M2401 402L2682 811M2401 402L2870 616M2401 402L2739 947M2401 402L2567 992M2401 402L2876 1004M2401 402L3012 943M2401 402L2700 1123M2401 402L2288 914M2401 402L2691 497M2401 402L3007 668M3344 390L2869 447M3344 390L3050 490M3344 390L3183 622M3344 390L3065 808M3344 390L3007 668M3344 390L3236 799M3466 900L3236 799M3466 900L3065 808M3466 900L3060 1115M3466 900L3143 1314M3466 900L3183 622M3466 900L3012 943M3466 900L2881 1167M3466 900L2876 1004M2288 914L2682 811M2288 914L2567 992M2288 914L2618 1319M2288 914L3065 808M2288 914L2700 1123M2618 1319L2567 992M2618 1319L2881 1167M2618 1319L2739 947M2618 1319L3060 1115M2618 1319L2515 813M2618 1319L2876 1004M2618 1319L3012 943M3143 1314L3190 981M3143 1314L3060 1115M3143 1314L2881 1167M3143 1314L3183 622M3143 1314L3236 799M3143 1314L3012 943M3143 1314L2700 1123M3143 1314L2876 1004M3143 1314L2739 947M2869 447L2560 632M2869 447L2737 676M2869 447L2682 811M2869 447L3007 668M2869 447L3065 808M2869 447L3183 622M2869 447L2739 947M2869 447L3012 943M2691 497L2737 676M2691 497L2682 811M2691 497L3007 668M2691 497L2515 813M2691 497L2567 992M2691 497L2739 947M2691 497L3065 808M3050 490L3183 622M3050 490L3007 668M3050 490L2682 811M3050 490L3190 981M3050 490L3012 943M3050 490L2876 1004M3050 490L2560 632M2560 632L2515 813M2560 632L2737 676M2560 632L2739 947M2560 632L2567 992M2560 632L2876 1004M2560 632L3007 668M2560 632L2700 1123M2560 632L2881 1167M2870 616L3183 622M2870 616L3236 799M2870 616L2515 813M2870 616L2567 992M2870 616L3190 981M2870 616L3060 1115M2870 616L2700 1123M3183 622L3007 668M3183 622L3065 808M3183 622L3012 943M3183 622L3190 981M3183 622L2876 1004M3183 622L3060 1115M2737 676L2515 813M2737 676L2567 992M2737 676L2700 1123M2737 676L2881 1167M2737 676L3190 981M2737 676L3236 799M3007 668L2515 813M3007 668L3236 799M3007 668L3190 981M3007 668L2700 1123M3007 668L2881 1167M3007 668L3060 1115M2515 813L2739 947M2515 813L2567 992M2515 813L2876 1004M2515 813L2700 1123M2515 813L2881 1167M2682 811L2700 1123M2682 811L3012 943M2682 811L3190 981M2682 811L3060 1115M3065 808L2567 992M3065 808L2700 1123M3065 808L2881 1167M3065 808L3060 1115M3236 799L3012 943M3236 799L3190 981M3236 799L2876 1004M3236 799L3060 1115M3236 799L2739 947M3236 799L2881 1167M2739 947L2700 1123M2739 947L3012 943M2739 947L3190 981M2739 947L3060 1115M3012 943L2567 992M3012 943L3190 981M3012 943L2700 1123M2567 992L2876 1004M2567 992L2700 1123M2567 992L2881 1167M2567 992L3060 1115M2876 1004L3190 981M2876 1004L2700 1123M2876 1004L3060 1115M3190 981L3060 1115M3190 981L2881 1167M2700 1123L2881 1167M3060 1115L2881 1167"/>
<path id="edges-covid-dashed" class="gd" d="M2288 914L2515 813M3466 900L3190 981M2618 1319L2700 1123M2288 914L2739 947M3466 900L2739 947M3344 390L3190 981"/>
<path id="edges-covid-strong" class="er" d="M2560 632L2869 447M2691 497L2870 616M2863 447L2864 616M2877 447L2878 616M3050 490L2870 616M3050 490L2737 676M3050 490L2739 947M3050 490L3065 808M3050 490L3236 799M3183 622L3236 799M2560 632L2682 811M2560 632L3012 943M2737 676L2870 616M2737 676L3007 668M2737 676L2876 1004M2737 676L3065 808M2737 676L2739 947M2870 616L2682 811M2870 616L2739 947M2870 616L2876 1004M2870 616L3012 943M2870 616L3065 808M2870 616L3007 668M3007 668L2682 811M3007 668L2739 947M3007 668L2876 1004M3007 668L2567 992M2515 813L2682 811M2515 813L3012 943M2682 811L3065 808M2682 811L2567 992M2682 811L2876 1004M2682 811L2881 1167M3065 808L2739 947M3065 808L3190 981M3065 808L3236 799M3065 808L2876 1004M2739 947L2567 992M2739 947L2881 1167M2876 1004L2881 1167M3012 943L2881 1167M3012 943L3060 1115M3190 981L2700 1123"/>

<path id="edges-discharge-gray" class="g2" d="M1088 1569L1502 1734M1088 1569L523 2155M1088 1569L792 2016M1088 1569L973 1849M1088 1569L1096 1827M1088 1569L1219 1849M1088 1569L1326 1917M1088 1569L1403 2017M1088 1569L868 1916M1088 1569L1436 2138M685 1745L523 2155M685 1745L699 2559M685 1745L973 1849M685 1745L1096 1827M685 1745L1219 1849M685 1745L868 1916M685 1745L792 2016M685 1745L758 2135M685 1745L1102 2097M685 1745L1403 2017M685 1745L1102 2245M685 1745L1422 2263M685 1745L767 2259M685 1745L1326 1917M523 2155L758 2135M523 2155L767 2259M523 2155L699 2559M523 2155L792 2016M523 2155L822 2370M1678 2138L1436 2138M1678 2138L1422 2263M1678 2138L1403 2017M1678 2138L1513 2546M1678 2138L1368 2374M1513 2546L1422 2263M1513 2546L1368 2374M1513 2546L1273 2457M1513 2546L1156 2502M1513 2546L1032 2502M1513 2546L699 2559M1513 2546L1109 2721M1513 2546L1403 2017M1513 2546L1436 2138M1513 2546L1326 1917M1513 2546L1102 2097M1109 2721L1032 2502M1109 2721L1156 2502M1109 2721L1273 2457M1109 2721L916 2458M1109 2721L822 2370M1109 2721L1368 2374M699 2559L822 2370M699 2559L767 2259M973 1849L868 1916M973 1849L1219 1849M973 1849L1326 1917M973 1849L1403 2017M973 1849L792 2016M973 1849L758 2135M973 1849L1422 2263M973 1849L1368 2374M973 1849L767 2259M1096 1827L868 1916M1096 1827L792 2016M1096 1827L1403 2017M1096 1827L758 2135M1096 1827L1436 2138M1096 1827L1422 2263M1096 1827L767 2259M1096 1827L822 2370M1219 1849L792 2016M1219 1849L1403 2017M1219 1849L758 2135M1219 1849L1436 2138M1219 1849L1422 2263M1219 1849L767 2259M1219 1849L822 2370M1219 1849L1273 2457M868 1916L1326 1917M868 1916L1403 2017M868 1916L758 2135M868 1916L1436 2138M868 1916L1422 2263M868 1916L1368 2374M868 1916L767 2259M868 1916L1273 2457M1326 1917L792 2016M1326 1917L758 2135M1326 1917L767 2259M1326 1917L1422 2263M1326 1917L1273 2457M1326 1917L1156 2502M1326 1917L1403 2017M792 2016L758 2135M792 2016L1436 2138M792 2016L1422 2263M792 2016L767 2259M792 2016L1368 2374M792 2016L1273 2457M792 2016L1156 2502M1403 2017L767 2259M1403 2017L822 2370M1403 2017L1102 2245M1403 2017L1273 2457M1403 2017L1032 2502M1403 2017L916 2458M1102 2097L758 2135M1102 2097L1436 2138M1102 2097L767 2259M1102 2097L1422 2263M1102 2097L822 2370M1102 2097L1273 2457M1102 2097L1032 2502M1102 2097L1156 2502M758 2135L1436 2138M758 2135L767 2259M758 2135L1422 2263M758 2135L1102 2245M758 2135L1368 2374M758 2135L1032 2502M758 2135L1273 2457M1436 2138L767 2259M1436 2138L1102 2245M1436 2138L822 2370M1436 2138L916 2458M1436 2138L1273 2457M1436 2138L1032 2502M767 2259L1102 2245M767 2259L1422 2263M767 2259L1368 2374M767 2259L916 2458M767 2259L1032 2502M767 2259L1273 2457M1102 2245L1422 2263M1102 2245L822 2370M1102 2245L1368 2374M1102 2245L1273 2457M1422 2263L916 2458M1422 2263L1032 2502M1422 2263L1156 2502M1422 2263L1273 2457M822 2370L1368 2374M822 2370L1032 2502M822 2370L1156 2502M822 2370L1273 2457M1368 2374L916 2458M1368 2374L1032 2502M1368 2374L1156 2502M916 2458L1156 2502M916 2458L1273 2457"/>
<path id="edges-discharge-strong" class="ep" d="M792 2016L1403 2017M758 2135L1403 2017M792 2016L1102 2245M973 1849L1436 2138M973 1849L1032 2502M973 1849L1156 2502M868 1916L1032 2502M1096 1827L1102 2097M1096 1827L916 2458M1219 1849L1102 2097M1326 1917L1102 2097M1326 1917L916 2458M1336 1921L926 2462M1326 1917L1102 2245M1102 2097L1102 2245M1102 2097L1368 2374M1422 2263L822 2370M1102 2245L916 2458M758 2135L916 2458M767 2259L822 2370M1102 2245L1156 2502M1436 2138L1422 2263M1422 2263L1368 2374M1368 2374L1273 2457M1219 1849L1326 1917M1096 1827L1219 1849M1403 2017L1436 2138M822 2370L916 2458"/>

<path id="edges-death-gray" class="g" d="M2861 1581L2659 1842M2455 1749L2871 1786M2455 1749L2659 1842M2455 1749L2511 2003M2455 1749L2712 2030M2455 1749L2652 2165M2455 1749L2472 2219M2455 1749L2286 2155M2455 1749L2455 2563M2455 1749L2852 1977M2455 1749L2988 2036M2455 1749L2707 2307M2455 1749L2557 2421M2455 1749L2845 2367M2455 1749L3078 1854M3268 1749L2871 1786M3268 1749L3078 1854M3268 1749L3216 2023M3268 1749L2988 2036M3268 1749L3043 2173M3268 1749L3243 2241M3268 1749L3268 2564M3268 1749L3145 2439M3268 1749L2852 1977M2286 2155L2511 2003M2286 2155L2472 2219M2286 2155L2652 2165M2286 2155L2557 2421M2286 2155L2455 2563M2286 2155L2707 2307M2286 2155L2712 2030M2286 2155L2845 2367M3436 2155L3216 2023M3436 2155L3043 2173M3436 2155L3243 2241M3436 2155L3145 2439M3436 2155L3268 2564M3436 2155L2988 2036M3436 2155L2983 2311M2455 2563L2557 2421M2455 2563L2739 2545M2455 2563L2955 2550M2455 2563L3268 2564M2455 2563L2472 2219M2455 2563L2707 2307M2455 2563L2845 2367M2455 2563L2861 2733M2455 2563L2511 2003M3268 2564L3145 2439M3268 2564L2955 2550M3268 2564L3243 2241M3268 2564L3216 2023M3268 2564L3043 2173M3268 2564L2983 2311M3268 2564L2861 2733M3268 2564L2739 2545M3268 2564L2845 2367M2861 2733L2739 2545M2861 2733L2955 2550M2861 2733L2557 2421M2861 2733L3145 2439M2871 1786L2659 1842M2871 1786L3078 1854M2871 1786L2712 2030M2871 1786L2652 2165M2871 1786L3043 2173M2871 1786L3216 2023M2659 1842L2511 2003M2659 1842L2712 2030M2659 1842L2988 2036M2659 1842L2652 2165M2659 1842L2472 2219M2659 1842L3043 2173M2659 1842L2707 2307M2659 1842L3078 1854M3078 1854L2712 2030M3078 1854L3216 2023M3078 1854L3243 2241M3078 1854L2652 2165M3078 1854L2472 2219M3078 1854L3145 2439M2852 1977L2511 2003M2852 1977L2472 2219M2852 1977L3216 2023M2852 1977L3043 2173M2852 1977L3243 2241M2852 1977L2557 2421M2852 1977L3145 2439M2852 1977L2652 2165M2511 2003L2472 2219M2511 2003L2707 2307M2511 2003L2557 2421M2511 2003L2845 2367M2511 2003L2988 2036M2511 2003L2739 2545M2712 2030L2472 2219M2712 2030L3216 2023M2712 2030L3243 2241M2712 2030L2983 2311M2712 2030L3145 2439M2988 2036L3216 2023M2988 2036L2472 2219M2988 2036L2557 2421M2988 2036L3145 2439M2988 2036L2983 2311M3216 2023L2652 2165M3216 2023L2472 2219M3216 2023L3243 2241M3216 2023L3145 2439M2652 2165L2557 2421M2652 2165L2845 2367M2652 2165L2983 2311M2652 2165L3145 2439M2652 2165L3243 2241M3043 2173L3243 2241M3043 2173L2557 2421M3043 2173L2845 2367M3043 2173L2955 2550M2472 2219L2707 2307M2472 2219L2557 2421M2472 2219L2845 2367M2472 2219L2983 2311M2472 2219L2739 2545M2472 2219L3243 2241M3243 2241L2707 2307M3243 2241L2845 2367M3243 2241L3145 2439M3243 2241L2557 2421M3243 2241L2739 2545M2707 2307L2983 2311M2707 2307L3145 2439M2983 2311L2845 2367M2845 2367L3145 2439M2845 2367L2861 2733M2557 2421L2739 2545M2557 2421L2955 2550M3145 2439L2739 2545M3145 2439L2955 2550M2739 2545L2955 2550"/>
<path id="edges-death-dashed" class="gd" d="M2861 1581L2871 1786M2286 2155L2852 1977M2286 2155L2988 2036M3436 2155L2852 1977M3268 1749L2712 2030M2455 2563L2983 2311M3268 2564L2707 2307M2472 2219L3145 2439M3243 2241L2455 2563"/>
<path id="edges-death-strong" class="ed" d="M2511 2003L2871 1786M2511 2003L2712 2030M2511 2003L2652 2165M2659 1842L2852 1977M2871 1786L2988 2036M2871 1786L2983 2311M3078 1854L2852 1977M3078 1854L2712 2030M3078 1854L2707 2307M2852 1977L2712 2030M2852 1977L2845 2367M2852 1977L2739 2545M2852 1977L2988 2036M2852 1977L2707 2307M2712 2030L2988 2036M2712 2030L2707 2307M2712 2030L2739 2545M2712 2030L2845 2367M2712 2030L3043 2173M2712 2030L2955 2550M2988 2036L2707 2307M2988 2036L2845 2367M2988 2036L2739 2545M2988 2036L2652 2165M2988 2036L3243 2241M2988 2036L2955 2550M2652 2165L3043 2173M2472 2219L3043 2173M2652 2165L2707 2307M2652 2165L2739 2545M3216 2023L3043 2173M3216 2023L2983 2311M3216 2023L2845 2367M3043 2173L3145 2439M3043 2173L2707 2307M3043 2173L2739 2545M2557 2421L3145 2439M2557 2421L2983 2311M2557 2421L2845 2367M2557 2421L2707 2307M2707 2307L2739 2545M2707 2307L2955 2550M2845 2367L2739 2545M2845 2367L2955 2550M2983 2311L2739 2545M2983 2311L3145 2439M2983 2311L2955 2550"/>
</g>

<!-- nodes: Serum HC -->
<g id="hc-ccl3" class="node hc"><circle cx="1060" cy="183" r="50"/><text x="1060" y="183">CCL3</text></g>
<g id="hc-ccl11" class="node hc"><circle cx="1060" cy="319" r="50"/><text x="1060" y="319">CCL11</text></g>
<g id="hc-ccl4" class="node hc"><circle cx="1184" cy="345" r="50"/><text x="1184" y="345">CCL4</text></g>
<g id="hc-ccl2" class="node hc"><circle cx="1295" cy="407" r="50"/><text x="1295" y="407">CCL2</text></g>
<g id="hc-il2" class="node hc"><circle cx="936" cy="361" r="50"/><text x="936" y="361">IL-2</text></g>
<g id="hc-il7" class="node hc"><circle cx="830" cy="431" r="50"/><text x="830" y="431">IL-7</text></g>
<g id="hc-ccl5" class="node hc"><circle cx="1394" cy="494" r="50"/><text x="1394" y="494">CCL5</text></g>
<g id="hc-gcsf" class="node hc"><circle cx="753" cy="518" r="50"/><text x="753" y="518">G-CSF</text></g>
<g id="hc-cxcl8" class="node hc"><circle cx="1076" cy="604" r="50"/><text x="1076" y="604">CXCL8</text></g>
<g id="hc-cxcl10" class="node hc"><circle cx="1438" cy="611" r="50"/><text x="1438" y="611">CXCL10</text></g>
<g id="hc-vegf" class="node hc"><circle cx="703" cy="622" r="50"/><text x="703" y="622">VEGF</text></g>
<g id="hc-gmcsf" class="node hc"><circle cx="535" cy="746" r="50"/><text x="535" y="746">GM-CSF</text></g>
<g id="hc-pdgf" class="node hc"><circle cx="707" cy="740" r="50"/><text x="707" y="740">PDGF</text></g>
<g id="hc-il4" class="node hc"><circle cx="969" cy="727" r="50"/><text x="969" y="727">IL-4</text></g>
<g id="hc-il15" class="node hc"><circle cx="1177" cy="730" r="50"/><text x="1177" y="730">IL-15</text></g>
<g id="hc-il1b" class="node hc"><circle cx="1450" cy="736" r="50"/><text x="1450" y="736">IL-1β</text></g>
<g id="hc-tnf" class="node hc"><circle cx="1622" cy="732" r="50"/><text x="1622" y="732">TNF</text></g>
<g id="hc-il17" class="node hc"><circle cx="1068" cy="819" r="50"/><text x="1068" y="819">IL-17</text></g>
<g id="hc-fgf" class="node hc"><circle cx="744" cy="864" r="50"/><text x="744" y="864">FGF</text></g>
<g id="hc-il6" class="node hc"><circle cx="1426" cy="847" r="50"/><text x="1426" y="847">IL-6</text></g>
<g id="hc-il13" class="node hc"><circle cx="804" cy="972" r="50"/><text x="804" y="972">IL-13</text></g>
<g id="hc-il12" class="node hc"><circle cx="1363" cy="955" r="50"/><text x="1363" y="955">IL-12</text></g>
<g id="hc-il10" class="node hc"><circle cx="899" cy="1056" r="50"/><text x="899" y="1056">IL-10</text></g>
<g id="hc-ifng" class="node hc"><circle cx="1267" cy="1041" r="50"/><text x="1267" y="1041">IFN-γ</text></g>
<g id="hc-il5" class="node hc"><circle cx="1025" cy="1094" r="50"/><text x="1025" y="1094">IL-5</text></g>
<g id="hc-il1ra" class="node hc"><circle cx="1155" cy="1085" r="50"/><text x="1155" y="1085">IL-1Ra</text></g>
<g id="hc-il9" class="node hc"><circle cx="1063" cy="1230" r="50"/><text x="1063" y="1230">IL-9</text></g>

<!-- nodes: Serum COVID -->
<g id="cv-ccl5" class="node cv"><circle cx="2870" cy="170" r="53"/><text x="2870" y="170">CCL5</text></g>
<g id="cv-il7" class="node cv"><circle cx="2401" cy="402" r="53"/><text x="2401" y="402">IL-7</text></g>
<g id="cv-il12" class="node cv"><circle cx="3344" cy="390" r="53"/><text x="3344" y="390">IL-12</text></g>
<g id="cv-ccl11" class="node cv"><circle cx="2869" cy="447" r="53"/><text x="2869" y="447">CCL11</text></g>
<g id="cv-il2" class="node cv"><circle cx="2691" cy="497" r="53"/><text x="2691" y="497">IL-2</text></g>
<g id="cv-cxcl10" class="node cv"><circle cx="3050" cy="490" r="53"/><text x="3050" y="490">CXCL10</text></g>
<g id="cv-gmcsf" class="node cv"><circle cx="2560" cy="632" r="53"/><text x="2560" y="632">GM-CSF</text></g>
<g id="cv-cxcl8" class="node cv"><circle cx="2870" cy="616" r="53"/><text x="2870" y="616">CXCL8</text></g>
<g id="cv-il1b" class="node cv"><circle cx="3183" cy="622" r="53"/><text x="3183" y="622">IL-1β</text></g>
<g id="cv-gcsf" class="node cv"><circle cx="2737" cy="676" r="53"/><text x="2737" y="676">G-CSF</text></g>
<g id="cv-ccl3" class="node cv"><circle cx="3007" cy="668" r="53"/><text x="3007" y="668">CCL3</text></g>
<g id="cv-fgf" class="node cv"><circle cx="2515" cy="813" r="53"/><text x="2515" y="813">FGF</text></g>
<g id="cv-vegf" class="node cv"><circle cx="2682" cy="811" r="53"/><text x="2682" y="811">VEGF</text></g>
<g id="cv-ccl4" class="node cv"><circle cx="3065" cy="808" r="53"/><text x="3065" y="808">CCL4</text></g>
<g id="cv-il6" class="node cv"><circle cx="3236" cy="799" r="53"/><text x="3236" y="799">IL-6</text></g>
<g id="cv-pdgf" class="node cv"><circle cx="2288" cy="914" r="53"/><text x="2288" y="914">PDGF</text></g>
<g id="cv-il15" class="node cv"><circle cx="3466" cy="900" r="53"/><text x="3466" y="900">IL-15</text></g>
<g id="cv-il4" class="node cv"><circle cx="2739" cy="947" r="53"/><text x="2739" y="947">IL-4</text></g>
<g id="cv-ccl2" class="node cv"><circle cx="3012" cy="943" r="53"/><text x="3012" y="943">CCL2</text></g>
<g id="cv-il10" class="node cv"><circle cx="2567" cy="992" r="53"/><text x="2567" y="992">IL-10</text></g>
<g id="cv-il1ra" class="node cv"><circle cx="2876" cy="1004" r="53"/><text x="2876" y="1004">IL-1Ra</text></g>
<g id="cv-tnf" class="node cv"><circle cx="3190" cy="981" r="53"/><text x="3190" y="981">TNF</text></g>
<g id="cv-il9" class="node cv"><circle cx="2700" cy="1123" r="53"/><text x="2700" y="1123">IL-9</text></g>
<g id="cv-ifng" class="node cv"><circle cx="3060" cy="1115" r="53"/><text x="3060" y="1115">IFN-γ</text></g>
<g id="cv-il17" class="node cv"><circle cx="2881" cy="1167" r="53"/><text x="2881" y="1167">IL-17</text></g>
<g id="cv-il13" class="node cv"><circle cx="2618" cy="1319" r="53"/><text x="2618" y="1319">IL-13</text></g>
<g id="cv-il5" class="node cv"><circle cx="3143" cy="1314" r="53"/><text x="3143" y="1314">IL-5</text></g>

<!-- nodes: Serum COVID - Discharge -->
<g id="dc-ccl5" class="node dc"><circle cx="1088" cy="1569" r="51"/><text x="1088" y="1569">CCL5</text></g>
<g id="dc-il7" class="node dc"><circle cx="685" cy="1745" r="51"/><text x="685" y="1745">IL-7</text></g>
<g id="dc-cxcl10" class="node dc"><circle cx="1502" cy="1734" r="51"/><text x="1502" y="1734">CXCL10</text></g>
<g id="dc-il2" class="node dc"><circle cx="973" cy="1849" r="51"/><text x="973" y="1849">IL-2</text></g>
<g id="dc-ccl11" class="node dc"><circle cx="1096" cy="1827" r="51"/><text x="1096" y="1827">CCL11</text></g>
<g id="dc-ccl3" class="node dc"><circle cx="1219" cy="1849" r="51"/><text x="1219" y="1849">CCL3</text></g>
<g id="dc-gmcsf" class="node dc"><circle cx="868" cy="1916" r="51"/><text x="868" y="1916">GM-CSF</text></g>
<g id="dc-ccl4" class="node dc"><circle cx="1326" cy="1917" r="51"/><text x="1326" y="1917">CCL4</text></g>
<g id="dc-gcsf" class="node dc"><circle cx="792" cy="2016" r="51"/><text x="792" y="2016">G-CSF</text></g>
<g id="dc-ccl2" class="node dc"><circle cx="1403" cy="2017" r="51"/><text x="1403" y="2017">CCL2</text></g>
<g id="dc-cxcl8" class="node dc"><circle cx="1102" cy="2097" r="51"/><text x="1102" y="2097">CXCL8</text></g>
<g id="dc-fgf" class="node dc"><circle cx="758" cy="2135" r="51"/><text x="758" y="2135">FGF</text></g>
<g id="dc-il1b" class="node dc"><circle cx="1436" cy="2138" r="51"/><text x="1436" y="2138">IL-1β</text></g>
<g id="dc-pdgf" class="node dc"><circle cx="523" cy="2155" r="51"/><text x="523" y="2155">PDGF</text></g>
<g id="dc-il12" class="node dc"><circle cx="1678" cy="2138" r="51"/><text x="1678" y="2138">IL-12</text></g>
<g id="dc-il10" class="node dc"><circle cx="767" cy="2259" r="51"/><text x="767" y="2259">IL-10</text></g>
<g id="dc-il1ra" class="node dc"><circle cx="1102" cy="2245" r="51"/><text x="1102" y="2245">IL-1Ra</text></g>
<g id="dc-il6" class="node dc"><circle cx="1422" cy="2263" r="51"/><text x="1422" y="2263">IL-6</text></g>
<g id="dc-il5" class="node dc"><circle cx="822" cy="2370" r="51"/><text x="822" y="2370">IL-5</text></g>
<g id="dc-tnf" class="node dc"><circle cx="1368" cy="2374" r="51"/><text x="1368" y="2374">TNF</text></g>
<g id="dc-il4" class="node dc"><circle cx="916" cy="2458" r="51"/><text x="916" y="2458">IL-4</text></g>
<g id="dc-ifng" class="node dc"><circle cx="1273" cy="2457" r="51"/><text x="1273" y="2457">IFN-γ</text></g>
<g id="dc-il17" class="node dc"><circle cx="1032" cy="2502" r="51"/><text x="1032" y="2502">IL-17</text></g>
<g id="dc-il15" class="node dc"><circle cx="1156" cy="2502" r="51"/><text x="1156" y="2502">IL-15</text></g>
<g id="dc-vegf" class="node dc"><circle cx="699" cy="2559" r="51"/><text x="699" y="2559">VEGF</text></g>
<g id="dc-il9" class="node dc"><circle cx="1513" cy="2546" r="51"/><text x="1513" y="2546">IL-9</text></g>
<g id="dc-il13" class="node dc"><circle cx="1109" cy="2721" r="51"/><text x="1109" y="2721">IL-13</text></g>

<!-- nodes: Serum COVID - Death -->
<g id="de-ccl5" class="node de"><circle cx="2861" cy="1581" r="54"/><text x="2861" y="1581">CCL5</text></g>
<g id="de-il7" class="node de"><circle cx="2455" cy="1749" r="54"/><text x="2455" y="1749">IL-7</text></g>
<g id="de-il1b" class="node de"><circle cx="3268" cy="1749" r="54"/><text x="3268" y="1749">IL-1β</text></g>
<g id="de-ccl11" class="node de"><circle cx="2871" cy="1786" r="54"/><text x="2871" y="1786">CCL11</text></g>
<g id="de-il2" class="node de"><circle cx="2659" cy="1842" r="54"/><text x="2659" y="1842">IL-2</text></g>
<g id="de-ccl4" class="node de"><circle cx="3078" cy="1854" r="54"/><text x="3078" y="1854">CCL4</text></g>
<g id="de-cxcl8" class="node de"><circle cx="2852" cy="1977" r="54"/><text x="2852" y="1977">CXCL8</text></g>
<g id="de-gmcsf" class="node de"><circle cx="2511" cy="2003" r="54"/><text x="2511" y="2003">GM-CSF</text></g>
<g id="de-gcsf" class="node de"><circle cx="2712" cy="2030" r="54"/><text x="2712" y="2030">G-CSF</text></g>
<g id="de-ccl3" class="node de"><circle cx="2988" cy="2036" r="54"/><text x="2988" y="2036">CCL3</text></g>
<g id="de-il6" class="node de"><circle cx="3216" cy="2023" r="54"/><text x="3216" y="2023">IL-6</text></g>
<g id="de-pdgf" class="node de"><circle cx="2286" cy="2155" r="54"/><text x="2286" y="2155">PDGF</text></g>
<g id="de-il12" class="node de"><circle cx="3436" cy="2155" r="54"/><text x="3436" y="2155">IL-12</text></g>
<g id="de-vegf" class="node de"><circle cx="2652" cy="2165" r="54"/><text x="2652" y="2165">VEGF</text></g>
<g id="de-ccl2" class="node de"><circle cx="3043" cy="2173" r="54"/><text x="3043" y="2173">CCL2</text></g>
<g id="de-fgf" class="node de"><circle cx="2472" cy="2219" r="54"/><text x="2472" y="2219">FGF</text></g>
<g id="de-tnf" class="node de"><circle cx="3243" cy="2241" r="54"/><text x="3243" y="2241">TNF</text></g>
<g id="de-il4" class="node de"><circle cx="2707" cy="2307" r="54"/><text x="2707" y="2307">IL-4</text></g>
<g id="de-cxcl10" class="node de"><circle cx="2983" cy="2311" r="54"/><text x="2983" y="2311">CXCL10</text></g>
<g id="de-il1ra" class="node de"><circle cx="2845" cy="2367" r="54"/><text x="2845" y="2367">IL-1Ra</text></g>
<g id="de-il10" class="node de"><circle cx="2557" cy="2421" r="54"/><text x="2557" y="2421">IL-10</text></g>
<g id="de-ifng" class="node de"><circle cx="3145" cy="2439" r="54"/><text x="3145" y="2439">IFN-γ</text></g>
<g id="de-il13" class="node de"><circle cx="2455" cy="2563" r="54"/><text x="2455" y="2563">IL-13</text></g>
<g id="de-il5" class="node de"><circle cx="2739" cy="2545" r="54"/><text x="2739" y="2545">IL-5</text></g>
<g id="de-il17" class="node de"><circle cx="2955" cy="2550" r="54"/><text x="2955" y="2550">IL-17</text></g>
<g id="de-il15" class="node de"><circle cx="3268" cy="2564" r="54"/><text x="3268" y="2564">IL-15</text></g>
<g id="de-il9" class="node de"><circle cx="2861" cy="2733" r="54"/><text x="2861" y="2733">IL-9</text></g>
</svg>
